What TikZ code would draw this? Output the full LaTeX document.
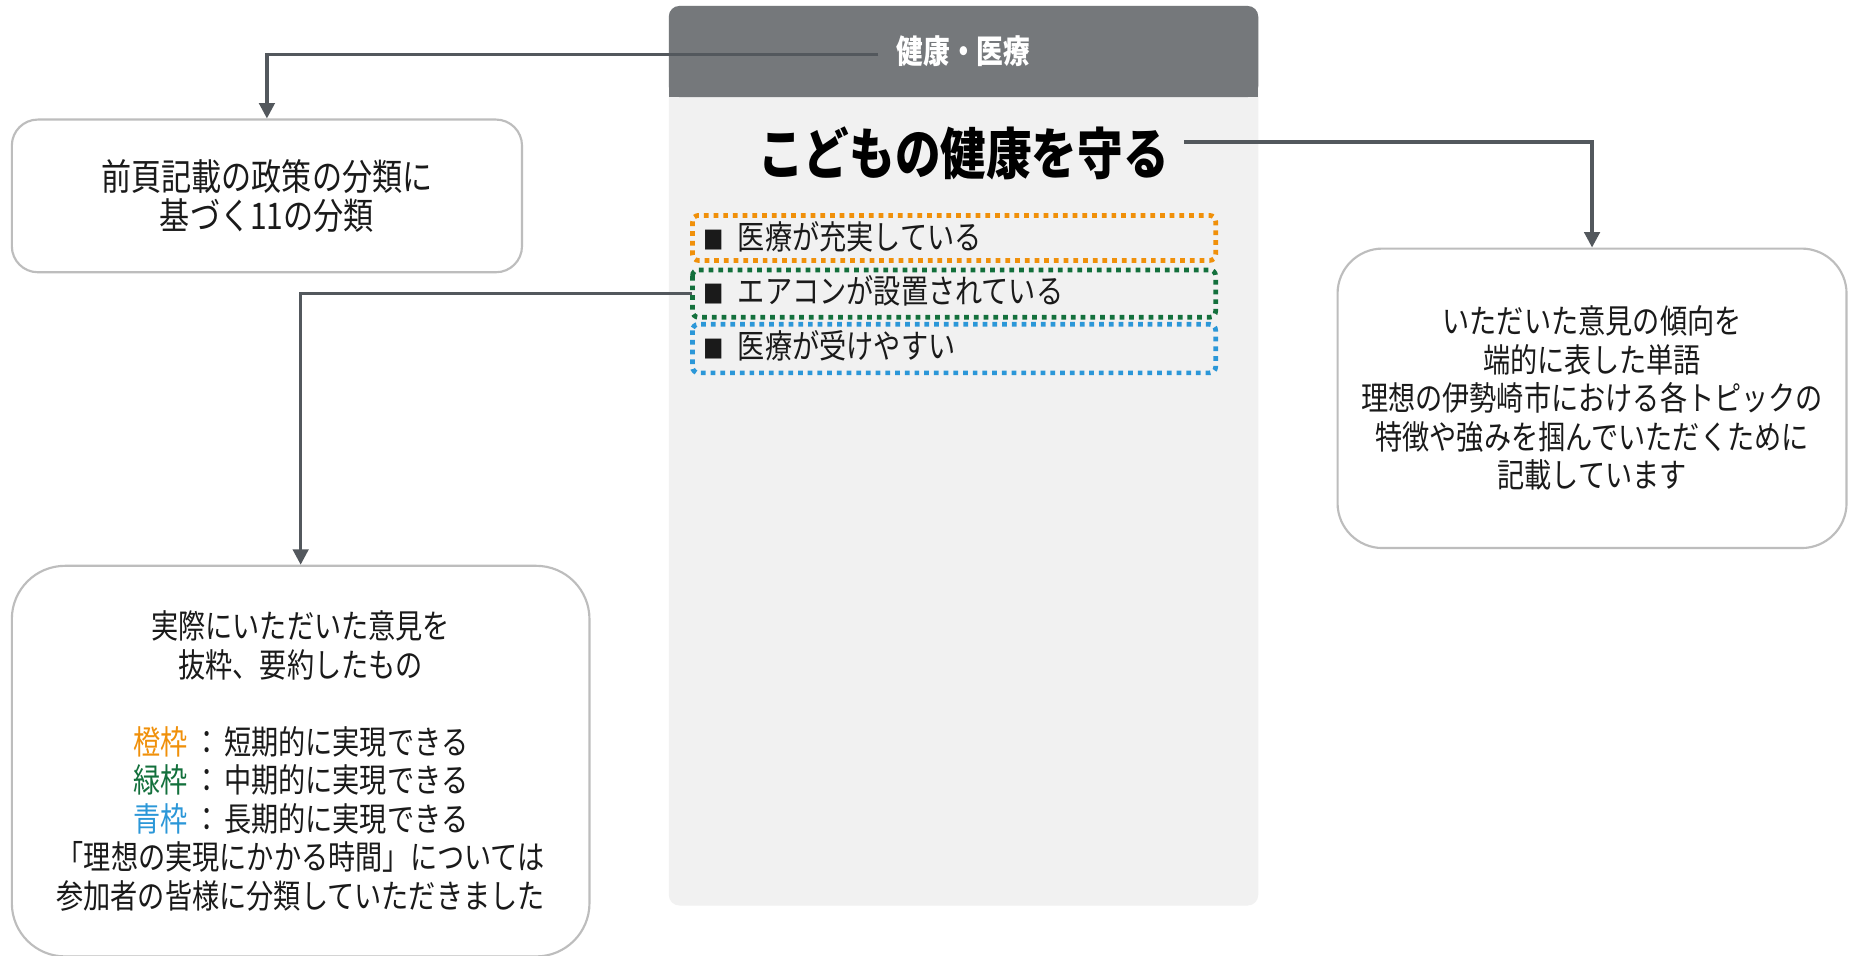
\documentclass[tikz,border=0pt]{standalone}
\usepackage{fontspec}
\newfontfamily\jp[FakeStretch=0.82]{Noto Sans CJK JP}
\usetikzlibrary{arrows.meta,calc}
\definecolor{hdrgray}{HTML}{75787B}
\definecolor{panelgray}{HTML}{F1F1F1}
\definecolor{boxborder}{HTML}{BDBDBD}
\definecolor{conn}{HTML}{53585D}
\definecolor{orangeF}{HTML}{F0900A}
\definecolor{greenF}{HTML}{13703C}
\definecolor{blueF}{HTML}{2B97D8}
\definecolor{txt}{HTML}{1A1A1A}
\begin{document}
\begin{tikzpicture}[x=1pt,y=-1pt,
  every node/.style={font=\jp, text=txt},
  infobox/.style={draw=boxborder, line width=1.8pt, fill=white, align=center, inner sep=0pt},
  bodytext/.style={font=\jp\fontsize{28}{32.5}\selectfont},
  dotbox/.style={line width=4pt, dash pattern=on 4pt off 4.2pt, rounded corners=5pt, fill=none},
  connector/.style={draw=conn, line width=2.8pt, -{Triangle[width=13pt,length=13pt]}},
  item/.style={anchor=west, inner sep=0pt, font=\jp\fontsize{28}{32.5}\selectfont}
]
\useasboundingbox (0,0) rectangle (1568,807);
\fill[white] (0,0) rectangle (1568,807);

% central panel
\fill[panelgray, rounded corners=9pt] (565,5) rectangle (1063,765);
\fill[hdrgray, rounded corners=9pt] (565,5) rectangle (1063,82);
\fill[hdrgray] (565,40) rectangle (1063,82);
\node[text=white, font=\jp\bfseries\fontsize{27.5}{30}\selectfont] (hdr) at (814,43) {健康・医療};
\node[text=black, font=\jp\bfseries\fontsize{47}{50}\selectfont, inner sep=0pt] (title) at (814,130) {こどもの健康を守る};

% dotted frames
\draw[dotbox, draw=orangeF] (585,182) rectangle (1027,220);
\draw[dotbox, draw=greenF] (585,228) rectangle (1027,268);
\draw[dotbox, draw=blueF] (585,274) rectangle (1027,315);
\coordinate (greenL) at (585,248);
\node[item] (i1) at (594,200) {{\fontsize{21}{21}\selectfont ■}\hspace{12pt}医療が充実している};
\node[item] (i2) at (594,246) {{\fontsize{21}{21}\selectfont ■}\hspace{12pt}エアコンが設置されている};
\node[item] (i3) at (594,292) {{\fontsize{21}{21}\selectfont ■}\hspace{12pt}医療が受けやすい};

% explanation boxes
\node[infobox, rounded corners=22pt, minimum width=431pt, minimum height=129pt,
      font=\jp\fontsize{31}{33}\selectfont] (tl) at (225.5,165.5)
  {前頁記載の政策の分類に\\基づく11の分類};
\node[infobox, rounded corners=38pt, minimum width=430pt, minimum height=253pt,
      bodytext] (rb) at (1345,336.5)
  {いただいた意見の傾向を\\端的に表した単語\\理想の伊勢崎市における各トピックの\\特徴や強みを掴んでいただくために\\記載しています};
\node[infobox, rounded corners=45pt, minimum width=488pt, minimum height=330pt,
      bodytext] (bl) at (254,643)
  {実際にいただいた意見を\\抜粋、要約したもの\\[32.5pt]
   \textcolor{orangeF}{橙枠}\hspace{5pt}：\hspace{3pt}短期的に実現できる\\
   \textcolor{greenF}{緑枠}\hspace{5pt}：\hspace{3pt}中期的に実現できる\\
   \textcolor{blueF}{青枠}\hspace{5pt}：\hspace{3pt}長期的に実現できる\\
   「理想の実現にかかる時間」については\\
   参加者の皆様に分類していただきました};

% connectors
\coordinate (c1) at ($(hdr.west)+(-12,3)$);
\draw[connector] (c1) -| (tl.north);
\coordinate (c2) at ($(title.east)+(13,-10)$);
\draw[connector] (c2) -| (rb.north);
\draw[connector] (greenL) -| (bl.north);
\end{tikzpicture}
\end{document}
